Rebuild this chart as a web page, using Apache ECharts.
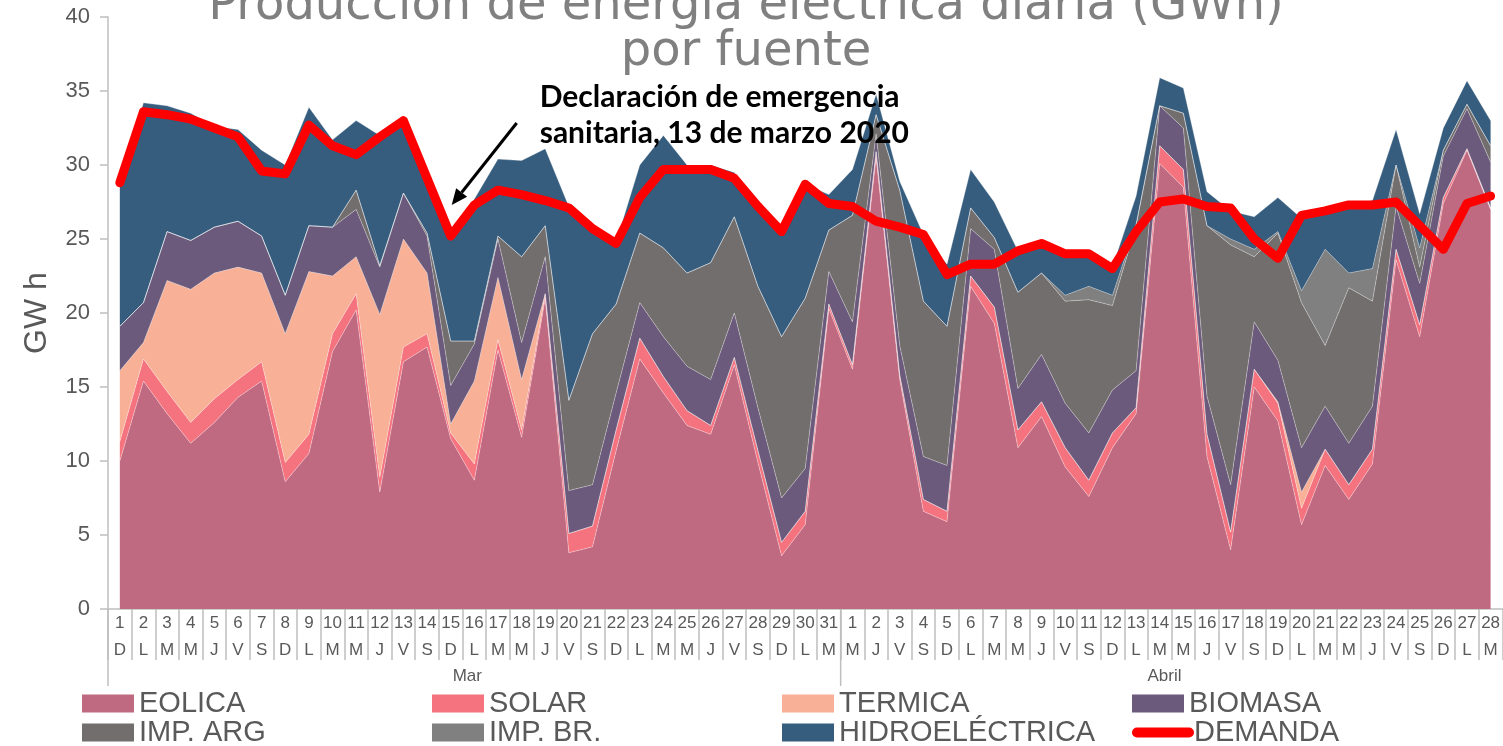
<!DOCTYPE html>
<html>
<head>
<meta charset="utf-8">
<title>Producción de energía eléctrica diaria por fuente</title>
<script src="https://cdn.jsdelivr.net/npm/echarts@6/dist/echarts.min.js"></script>
<style>
  html, body { margin: 0; padding: 0; background: #fff; }
  #chart { width: 1503px; height: 746px; }
</style>
</head>
<body>
<div id="chart"></div>
<script>
// eje X: 1..31 de marzo y 1..28 de abril 2020
var dias = ['1','2','3','4','5','6','7','8','9','10','11','12','13','14','15','16','17','18','19','20',
  '21','22','23','24','25','26','27','28','29','30','31',
  '1','2','3','4','5','6','7','8','9','10','11','12','13','14','15','16','17','18','19','20',
  '21','22','23','24','25','26','27','28'];
var diasSemana = ['D','L','M','M','J','V','S','D','L','M','M','J','V','S','D','L','M','M','J','V','S',
  'D','L','M','M','J','V','S','D','L','M',
  'M','J','V','S','D','L','M','M','J','V','S','D','L','M','M','J','V','S','D','L','M',
  'M','J','V','S','D','L','M'];
var meses = ['Mar', 'Abril'];
var diasPorMes = [31, 28];

// GWh por fuente
var eolica = [10.0, 15.4, 13.2, 11.2, 12.6, 14.3, 15.4, 8.6, 10.5, 17.4, 20.2, 7.9, 16.7, 17.7, 11.5, 8.7,
  17.5, 11.6, 21.0, 3.8, 4.2, 10.7, 16.9, 14.6, 12.4, 11.8, 16.5, 9.9, 3.6, 5.7, 20.3,
  16.2, 30.5, 15.5, 6.6, 5.9, 21.8, 19.3, 10.9, 13.0, 9.6, 7.6, 10.9, 13.2, 30.1, 28.5, 10.3,
  4.0, 15.0, 12.7, 5.7, 9.7, 7.4, 9.8, 23.6, 18.4, 27.4, 31.0, 27.0];
var solar = [1.3, 1.5, 1.5, 1.4, 1.6, 1.2, 1.3, 1.3, 1.3, 1.2, 1.1, 1.0, 1.0, 0.9, 0.4, 1.1,
  0.7, 0.5, 0.3, 1.3, 1.4, 1.4, 1.4, 1.1, 1.0, 0.6, 0.5, 0.8, 0.9, 0.9, 0.3,
  0.3, 0.4, 0.3, 0.8, 0.7, 0.7, 1.1, 1.2, 1.0, 1.3, 1.1, 1.0, 0.4, 1.2, 1.2, 1.5,
  1.2, 1.2, 1.2, 1.1, 1.1, 1.0, 1.0, 0.7, 0.8, 0.4, 0.1, 0.1];
var termica = [4.8, 1.1, 7.5, 9.0, 8.5, 7.6, 6.0, 8.7, 11.0, 3.9, 2.5, 11.0, 7.3, 4.1, 0.6, 5.6,
  4.2, 3.4, 0, 0, 0, 0, 0, 0, 0, 0, 0, 0, 0, 0, 0,
  0, 0, 0, 0, 0, 0, 0, 0, 0, 0, 0, 0, 0, 0, 0, 0,
  0, 0, 0.1, 1.1, 0, 0, 0, 0, 0, 0, 0, 0];
var biomasa = [3.0, 2.7, 3.3, 3.3, 3.1, 3.1, 2.5, 2.6, 3.1, 3.3, 3.2, 3.2, 3.1, 2.5, 2.6, 2.5,
  2.6, 2.5, 2.5, 2.9, 2.8, 2.5, 2.4, 2.7, 3.0, 3.1, 3.0, 2.9, 3.0, 2.9, 2.2,
  2.9, 1.2, 2.0, 2.9, 3.1, 3.2, 3.9, 2.8, 3.2, 3.0, 3.2, 2.9, 2.5, 2.7, 2.8, 2.6,
  3.2, 3.2, 2.8, 3.0, 2.9, 2.8, 2.9, 2.9, 2.8, 2.8, 2.7, 3.1];
var impArg = [0, 0, 0, 0, 0, 0, 0, 0, 0, 0, 1.3, 0.1, 0, 0.2, 3.0, 0.2,
  0.2, 5.8, 2.1, 6.1, 10.2, 6.0, 4.7, 6.0, 6.3, 7.9, 6.5, 8.2, 10.9, 11.5, 2.8,
  7.2, 1.3, 10.5, 10.5, 9.4, 1.4, 0.8, 6.5, 5.5, 6.9, 9.0, 5.7, 9.8, 0, 1.0, 11.5,
  16.2, 4.4, 8.6, 9.8, 4.1, 10.5, 7.1, 2.8, 1.1, 0.4, 0.3, 1.1];
var impBr = [0, 0, 0, 0, 0, 0, 0, 0, 0, 0, 0, 0, 0, 0, 0, 0,
  0, 0, 0, 0, 0, 0, 0, 0, 0, 0, 0, 0, 0, 0, 0,
  0, 0, 0, 0, 0, 0, 0, 0, 0, 0.4, 0.9, 0.7, 0.1, 0, 0, 0,
  0.4, 0.5, 0.1, 0.8, 6.5, 1.0, 2.2, 0, 1.3, 0, 0, 0];
var hidro = [9.8, 13.5, 8.5, 8.6, 6.8, 6.2, 5.8, 8.8, 8.0, 5.9, 4.7, 8.8, 5.1, 3.8, 7.1, 9.6,
  5.2, 6.5, 5.2, 13.1, 7.2, 4.2, 4.6, 7.6, 7.3, 6.6, 3.0, 5.6, 7.2, 7.7, 2.4,
  3.1, 1.4, 0.6, 4.5, 4.2, 2.6, 2.4, 2.8, 1.9, 2.8, 2.2, 1.9, 1.9, 1.9, 1.7, 2.3,
  1.9, 2.2, 2.3, 4.9, 2.7, 4.7, 4.6, 2.4, 2.3, 1.5, 1.6, 1.7];
var demanda = [28.8, 33.6, 33.4, 33.1, 32.5, 31.9, 29.6, 29.4, 32.7, 31.3, 30.7, 31.9, 33.0, 29.1, 25.2, 27.3,
  28.3, 28.0, 27.6, 27.1, 25.7, 24.7, 27.8, 29.7, 29.7, 29.7, 29.1, 27.2, 25.5, 28.7, 27.4,
  27.2, 26.2, 25.8, 25.3, 22.6, 23.3, 23.3, 24.2, 24.7, 24.0, 24.0, 23.0, 25.5, 27.5, 27.7, 27.2,
  27.1, 25.0, 23.7, 26.6, 26.9, 27.3, 27.3, 27.5, 25.9, 24.3, 27.4, 27.9];
var ticksY = [0, 40, 5];

var fuentes = [
  { name: 'EOLICA', data: eolica, color: '#C06A82' },
  { name: 'SOLAR', data: solar, color: '#F4737F' },
  { name: 'TERMICA', data: termica, color: '#F8B097' },
  { name: 'BIOMASA', data: biomasa, color: '#6B5A7B' },
  { name: 'IMP. ARG', data: impArg, color: '#736E6E' },
  { name: 'IMP. BR.', data: impBr, color: '#808080' },
  { name: 'HIDROELÉCTRICA', data: hidro, color: '#365D7E' }
];

var gris = '#595959';
var ejeColor = '#BFBFBF';
var chart = echarts.init(document.getElementById('chart'));

var series = fuentes.map(function (f) {
  return {
    name: f.name,
    type: 'line',
    stack: 'total',
    data: f.data,
    symbol: 'none',
    color: f.color,
    itemStyle: { color: f.color },
    lineStyle: { width: 0.8, color: 'rgba(255,255,255,0.4)' },
    areaStyle: { color: f.color, opacity: 1 },
    emphasis: { disabled: true }
  };
});
series.push({
  name: 'DEMANDA',
  type: 'line',
  data: demanda,
  symbol: 'none',
  color: '#FF0000',
  z: 5,
  lineStyle: { width: 9, color: '#FF0000', cap: 'round', join: 'round' },
  emphasis: { disabled: true }
});

var legendData = fuentes.map(function (f) {
  return { name: f.name, icon: 'rect', itemStyle: { color: f.color } };
});
legendData.push({
  name: 'DEMANDA',
  itemStyle: { color: 'rgba(0,0,0,0)', borderColor: 'rgba(0,0,0,0)', borderWidth: 0 },
  lineStyle: { width: 10, color: '#FF0000', cap: 'round' }
});

chart.setOption({
  animation: false,
  legend: {
    left: 82,
    top: 689,
    width: 1420,
    padding: 0,
    itemWidth: 52,
    itemHeight: 18,
    itemGap: 0,
    selectedMode: false,
    textStyle: { fontFamily: 'Liberation Sans', fontSize: 29, color: gris, width: 293, overflow: 'truncate', lineHeight: 28 },
    data: legendData
  },
  grid: { left: 108, top: 17, width: 1400, height: 592 },
  xAxis: {
    type: 'category',
    data: dias,
    axisLine: { lineStyle: { color: ejeColor, width: 1.5 } },
    axisTick: { show: true, interval: 0, length: 51, lineStyle: { color: ejeColor, width: 1.5 } },
    axisLabel: {
      interval: 0,
      margin: 1,
      color: gris,
      fontFamily: 'Liberation Sans Narrow, Liberation Sans',
      fontSize: 17,
      lineHeight: 27,
      formatter: function (v, i) { return v + '\n' + diasSemana[i]; }
    }
  },
  yAxis: {
    type: 'value',
    min: ticksY[0],
    max: ticksY[1],
    interval: ticksY[2],
    name: 'GW h',
    nameLocation: 'middle',
    nameGap: 55,
    nameTextStyle: { fontFamily: 'Liberation Sans', fontSize: 32, color: gris },
    axisLine: { show: true, lineStyle: { color: ejeColor, width: 1.5 } },
    axisTick: { show: true, length: 8, lineStyle: { color: ejeColor, width: 1.5 } },
    splitLine: { show: false },
    axisLabel: { margin: 18, color: gris, fontFamily: 'Liberation Sans', fontSize: 22 }
  },
  series: series
});

// separadores de mes, etiquetas de mes, flecha, nota y título
function pt(i, v) { return chart.convertToPixel({ gridIndex: 0 }, [i, v]); }
var banda = pt(1, 0)[0] - pt(0, 0)[0];
var y0 = pt(0, 0)[1];
var graficos = [];
var inicio = 0;
meses.forEach(function (m, k) {
  var x1 = pt(inicio, 0)[0] - banda / 2;
  var x2 = pt(inicio + diasPorMes[k] - 1, 0)[0] + banda / 2;
  graficos.push({
    type: 'line', silent: true,
    shape: { x1: x1, y1: y0, x2: x1, y2: y0 + 77 },
    style: { stroke: ejeColor, lineWidth: 1.5 }
  });
  graficos.push({
    type: 'text', silent: true,
    x: (x1 + x2) / 2 - 7, y: y0 + 67,
    style: { text: m, fill: gris, font: '17px "Liberation Sans Narrow", "Liberation Sans"', align: 'center', verticalAlign: 'middle' }
  });
  inicio += diasPorMes[k];
});

var p15 = pt(14, demanda[14]);
var punta = [p15[0] + 1, p15[1] - 31];
var cola = [p15[0] + 66, p15[1] - 113];
var ang = Math.atan2(punta[1] - cola[1], punta[0] - cola[0]);
var L = 16, W = 7;
var base = [punta[0] - L * Math.cos(ang), punta[1] - L * Math.sin(ang)];
graficos.push({
  type: 'line', silent: true,
  shape: { x1: cola[0], y1: cola[1], x2: base[0], y2: base[1] },
  style: { stroke: '#000', lineWidth: 3 }
});
graficos.push({
  type: 'polygon', silent: true,
  shape: { points: [punta,
    [base[0] + W * Math.sin(ang), base[1] - W * Math.cos(ang)],
    [base[0] - W * Math.sin(ang), base[1] + W * Math.cos(ang)]] },
  style: { fill: '#000' }
});
graficos.push({
  type: 'text', silent: true, z: 10,
  x: cola[0] + 23, y: 79,
  style: {
    text: 'Declaración de emergencia\nsanitaria, 13 de marzo 2020',
    fill: '#000',
    font: 'bold 30px Lato',
    lineHeight: 36
  }
});
graficos.push({
  type: 'text', silent: true, z: 10,
  x: 746, y: -16,
  style: {
    text: 'Producción de energía eléctrica diaria (GWh)\npor fuente',
    fill: '#808080',
    font: '48px "DejaVu Sans"',
    lineHeight: 46,
    align: 'center'
  }
});
chart.setOption({ graphic: graficos });
</script>
</body>
</html>
